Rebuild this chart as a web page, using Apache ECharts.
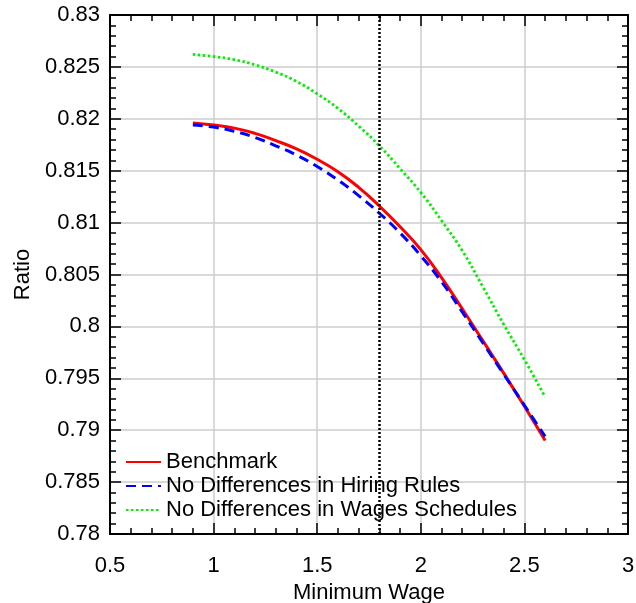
<!DOCTYPE html>
<html>
<head>
<meta charset="utf-8">
<title>Ratio vs Minimum Wage</title>
<script src="https://cdn.jsdelivr.net/npm/echarts@6/dist/echarts.min.js"></script>
<style>
    html, body { margin: 0; padding: 0; background: #fff; }
    #chart { width: 636px; height: 603px; }
</style>
</head>
<body>
<div id="chart"></div>
<script>
// ==================== Data ====================
const minWage = [0.9, 1.0, 1.1, 1.2, 1.3, 1.4, 1.5, 1.6, 1.7, 1.8, 1.9, 2.0, 2.1, 2.2, 2.3, 2.4, 2.5, 2.6];
const benchmark = [0.8196, 0.8194, 0.8191, 0.8186, 0.8179, 0.8171, 0.8161, 0.8149, 0.8134, 0.8116,
                   0.8096, 0.8074, 0.8047, 0.8017, 0.7986, 0.7955, 0.7923, 0.7890];
const noHiringDiff = [0.8194, 0.8192, 0.8188, 0.8182, 0.8174, 0.8165, 0.8154, 0.8141, 0.8126, 0.8109,
                      0.8090, 0.8068, 0.8043, 0.8014, 0.7984, 0.7954, 0.7924, 0.7894];
const noWageDiff = [0.8262, 0.8260, 0.8257, 0.8252, 0.8245, 0.8236, 0.8224, 0.8210, 0.8193, 0.8174,
                    0.8152, 0.8129, 0.8102, 0.8073, 0.8038, 0.8002, 0.7968, 0.7932];
const seriesNames = ['Benchmark', 'No Differences in Hiring Rules', 'No Differences in Wages Schedules'];
const cutoff = 1.8;

// ==================== Helpers ====================
const FONT = 'Liberation Sans, Arial, sans-serif';

function pairs(ys) {
    return minWage.map((x, i) => [x, ys[i]]);
}

function frameAxis(extra) {
    return Object.assign({
        type: 'value',
        axisLine: { show: true, onZero: false, lineStyle: { color: '#000', width: 2 } },
        axisTick: { show: true, inside: true, length: 11, lineStyle: { color: '#000', width: 1.5 } },
        minorTick: { show: true, splitNumber: 5, length: 6, lineStyle: { color: '#000', width: 1.5 } },
        axisLabel: { show: false },
        splitLine: { show: false }
    }, extra);
}

// ==================== Chart ====================
const chart = echarts.init(document.getElementById('chart'));
chart.setOption({
    animation: false,
    backgroundColor: '#fff',
    textStyle: { fontFamily: FONT },
    grid: { left: 110, top: 15, right: 8, bottom: 69, containLabel: false, outerBoundsMode: 'none' },
    legend: {
        orient: 'vertical',
        left: 125, top: 451, padding: 0,
        itemWidth: 35, itemHeight: 14, itemGap: 2,
        itemStyle: { opacity: 0 },
        lineStyle: { opacity: 1 },
        textStyle: { fontFamily: FONT, fontSize: 22, lineHeight: 22, color: '#000' },
        data: seriesNames
    },
    xAxis: [
        frameAxis({
            min: 0.5, max: 3, interval: 0.5,
            name: 'Minimum Wage', nameLocation: 'middle', nameGap: 47,
            nameTextStyle: { fontFamily: FONT, fontSize: 22, color: '#000' },
            axisLabel: { show: true, margin: 21, fontSize: 22, color: '#000', fontFamily: FONT },
            splitLine: { show: true, lineStyle: { color: '#cccccc', width: 1.5 } }
        }),
        frameAxis({ position: 'top', min: 0.5, max: 3, interval: 0.5 })
    ],
    yAxis: [
        frameAxis({
            min: 0.78, max: 0.83, interval: 0.005,
            name: 'Ratio', nameLocation: 'middle', nameGap: 72,
            nameTextStyle: { fontFamily: FONT, fontSize: 22, color: '#000' },
            axisLabel: { show: true, margin: 10, fontSize: 22, color: '#000', fontFamily: FONT },
            splitLine: { show: true, lineStyle: { color: '#cccccc', width: 1.5 } }
        }),
        frameAxis({ position: 'right', min: 0.78, max: 0.83, interval: 0.005 })
    ],
    series: [
        {
            name: seriesNames[0], type: 'line', data: pairs(benchmark),
            smooth: true, symbol: 'none', color: '#ff0000',
            lineStyle: { color: '#ff0000', width: 3 },
            markLine: {
                silent: true, symbol: 'none', label: { show: false },
                lineStyle: { color: '#000', width: 2.5, type: [2, 2] },
                data: [{ xAxis: cutoff }]
            }
        },
        {
            name: seriesNames[1], type: 'line', data: pairs(noHiringDiff),
            smooth: true, symbol: 'none', color: '#0000ff',
            lineStyle: { color: '#0000ff', width: 3, type: [10, 6] }
        },
        {
            name: seriesNames[2], type: 'line', data: pairs(noWageDiff),
            smooth: true, symbol: 'none', color: '#00f000',
            lineStyle: { color: '#00f000', width: 2.8, type: [2.5, 2.5] }
        }
    ]
});
</script>
</body>
</html>
